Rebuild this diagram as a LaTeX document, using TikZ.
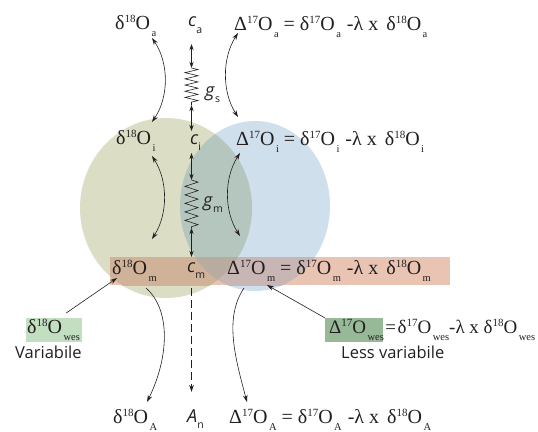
\documentclass[tikz,border=0pt]{standalone}
\usepackage{fontspec}
\setmainfont{Liberation Serif}
\setsansfont{Open Sans}
\usetikzlibrary{arrows.meta,decorations.pathmorphing,calc}
\definecolor{olivec}{HTML}{DBDDC5}
\definecolor{bluec}{HTML}{CFDFEC}
\definecolor{overc}{HTML}{B5C6BF}
\definecolor{bandc}{HTML}{E9C4B2}
\definecolor{bandolive}{HTML}{CFB297}
\definecolor{bandblue}{HTML}{C8B6B4}
\definecolor{bandover}{HTML}{B8ABA0}
\definecolor{greenl}{HTML}{C2DFC1}
\definecolor{greend}{HTML}{98B997}
\definecolor{ink}{HTML}{231F20}
\newcommand\supp[1]{\raisebox{6.5pt}{\fontsize{11}{11}\selectfont #1}}
\newcommand\subb[1]{\kern1.5pt\raisebox{-7pt}{\fontsize{10.5}{10.5}\selectfont #1}}
\newcommand\dO[2]{δ\supp{#1}O\subb{#2}}
\newcommand\DO[2]{Δ\supp{#1}O\subb{#2}}
\newcommand\eqn[1]{\DO{17}{#1}\kern5pt=\kern5pt\dO{17}{#1}\kern6pt-λ x\kern8pt\dO{18}{#1}}
\newcommand\conc[2]{\textit{\fontsize{18}{18}\selectfont #1}\raisebox{-6pt}{\fontsize{10.5}{10.5}\selectfont #2}}
\tikzset{
 lab/.style={anchor=base west,inner sep=0pt,font=\fontsize{20}{20}\selectfont,text=ink},
 san/.style={anchor=base west,inner sep=0pt,font=\sffamily\fontsize{16.5}{16.5}\selectfont,text=ink},
 arc/.style={draw=ink,line width=0.6pt,-{Stealth[length=7pt,width=4.5pt]}},
 dbl/.style={draw=ink,line width=0.7pt,{Stealth[length=6pt,width=4pt]}-{Stealth[length=6pt,width=4pt]}},
 spring/.style={draw=ink,line width=0.6pt,decorate,decoration={zigzag,segment length=#1,amplitude=6.5pt}},
 greenbox/.style={anchor=north west,inner sep=0pt,minimum height=24pt}
}
\begin{document}
\begin{tikzpicture}[x=1pt,y=-1pt]
\useasboundingbox (0,0) rectangle (538,431);
\def\olive{(166,208) ellipse [x radius=86,y radius=90]}
\def\blue{(255,206) ellipse [x radius=75,y radius=85]}
\def\band{(110,257) rectangle (450,285)}
\fill[olivec] \olive;
\fill[bluec] \blue;
\begin{scope}\clip \olive; \fill[overc] \blue; \end{scope}
\fill[bandc] \band;
\begin{scope}\clip \band; \fill[bandolive] \olive; \fill[bandblue] \blue;
 \clip \olive; \fill[bandover] \blue; \end{scope}
\node[greenbox,fill=greenl,minimum width=56pt] (boxl) at (26,318) {};
\node[greenbox,fill=greend,minimum width=58pt] (boxr) at (325,318) {};
% labels
\node[lab] (d18a) at (115,29) {\dO{18}{a}};
\node[lab] (d18i) at (116,144) {\dO{18}{i}};
\node[lab] (d18m) at (112,274) {\dO{18}{m}};
\node[lab] (d18A) at (113,423) {\dO{18}{A}};
\node[san] (ca) at (188,27) {\conc{c}{a}};
\node[san] (ci) at (190,144) {\conc{c}{i}};
\node[san] (cm) at (187,272) {\conc{c}{m}};
\node[san] (An) at (187,422) {\conc{A}{n}};
\node[san] (gs) at (205,96) {\conc{g}{s}};
\node[san] (gm) at (203,206) {\conc{g}{m}};
\node[lab] (Da) at (234,30) {\eqn{a}};
\node[lab] (Di) at (236,145) {\eqn{i}};
\node[lab] (Dm) at (227,274) {\eqn{m}};
\node[lab] (DA) at (229,423) {\eqn{A}};
\node[lab] (wl) at (27,333) {\dO{18}{wes}};
\node[lab,font=\fontsize{19}{19}\selectfont] (wr) at (329,333) {\DO{17}{wes}\kern1.5pt=\kern1.5pt\dO{17}{wes}-λ x \dO{18}{wes}};
\node[san] (vl) at (15,358) {Variabile};
\node[san] (vr) at (341,358) {Less variabile};
% vertical chain
\coordinate (s1t) at (191.5,68); \coordinate (s1b) at (191.5,105);
\coordinate (s2t) at (191.5,180); \coordinate (s2b) at (191.5,228);
\draw[dbl] ([shift={(3.5,17)}]ca.base west) -- (s1t);
\draw[spring=6.2pt] (s1t) -- (s1b);
\draw[dbl] (s1b) -- ([shift={(1.5,-13)}]ci.base west);
\draw[dbl] ([shift={(1.5,9)}]ci.base west) -- (s2t);
\draw[spring=8.5pt] (s2t) -- (s2b);
\draw[dbl] (s2b) -- ([shift={(4.5,-15)}]cm.base west);
\draw[arc,dashed,dash pattern=on 8pt off 4pt] ([shift={(4.5,16)}]cm.base west) -- ([shift={(4.5,-30)}]An.base west);
% curved exchanges
\draw[arc,{Stealth[length=7pt,width=4.5pt]}-{Stealth[length=7pt,width=4.5pt]}] ([shift={(37,9)}]d18a.base west) .. controls +(17,25) and +(17,-25) .. ([shift={(36,-22)}]d18i.base west);
\draw[arc,{Stealth[length=7pt,width=4.5pt]}-{Stealth[length=7pt,width=4.5pt]}] ([shift={(4,3)}]Da.base west) .. controls +(-16,25) and +(-16,-25) .. ([shift={(2,-28)}]Di.base west);
\draw[arc,{Stealth[length=7pt,width=4.5pt]}-{Stealth[length=7pt,width=4.5pt]}] ([shift={(36,12)}]d18i.base west) .. controls +(16,25) and +(16,-25) .. ([shift={(40,-35)}]d18m.base west);
\draw[arc,{Stealth[length=7pt,width=4.5pt]}-{Stealth[length=7pt,width=4.5pt]}] ([shift={(4,8)}]Di.base west) .. controls +(-16,25) and +(-16,-25) .. ([shift={(13,-38)}]Dm.base west);
\draw[arc] ([shift={(34,14)}]d18m.base west) .. controls +(25,22) and +(22,-45) .. ([shift={(34,-21)}]d18A.base west);
\draw[arc] ([shift={(17,14)}]Dm.base west) .. controls +(-20,30) and +(-12,-45) .. ([shift={(18,-21)}]DA.base west);
\draw[arc] (boxl.north) ++(12,-5) -- ([shift={(5,4)}]d18m.base west);
\draw[arc] (boxr.north west) -- ([shift={(40,11)}]Dm.base west);
\end{tikzpicture}
\end{document}
